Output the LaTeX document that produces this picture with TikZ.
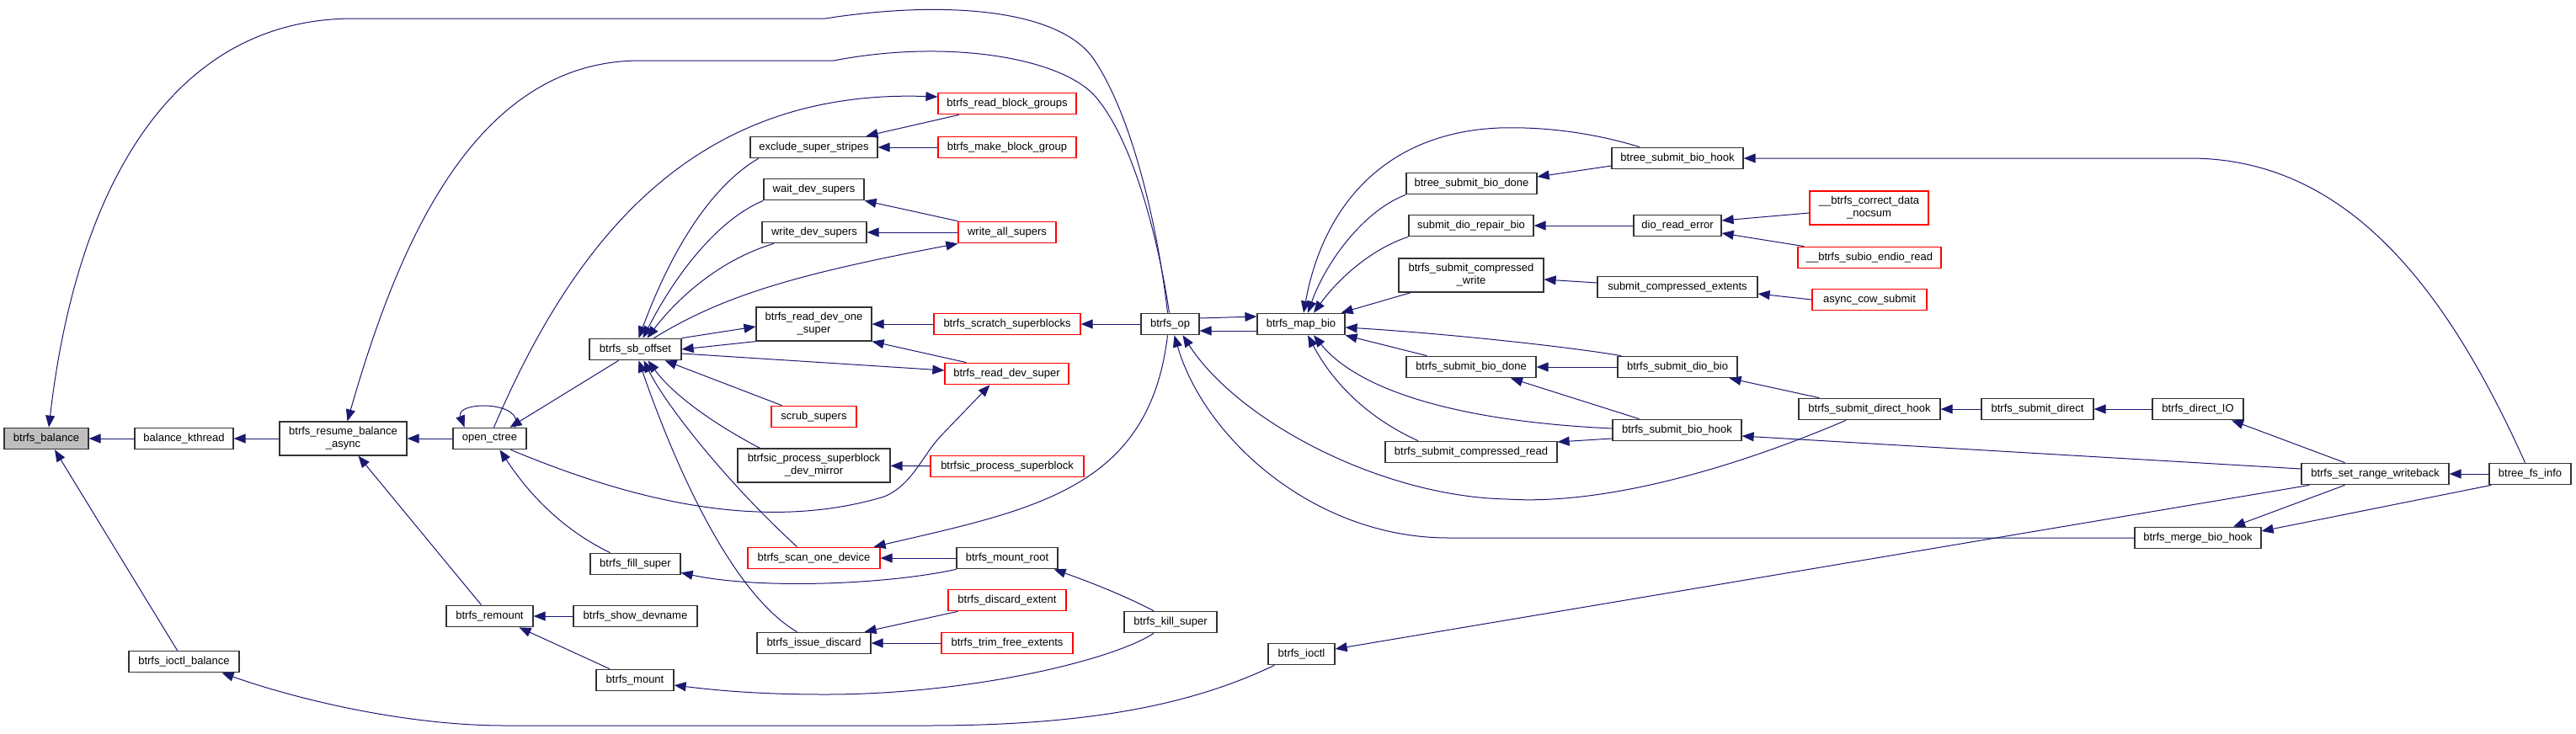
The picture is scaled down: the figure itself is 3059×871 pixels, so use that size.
\documentclass[tikz,border=0pt]{standalone}
\usepackage{fontspec}
\usepackage{xcolor}
\usepackage{tikz}
\usetikzlibrary{arrows.meta,calc}
\newfontfamily\dotfont{Liberation Sans}
\definecolor{callblue}{RGB}{25,25,112}
\colorlet{truncred}{red}
\tikzset{
  fn/.style={draw=black!80, line width=1.2pt, fill=white, inner sep=0pt,
    align=center, minimum height=25.5pt, font=\dotfont\fontsize{13}{15}\selectfont},
  fntwo/.style={fn, minimum height=40pt},
  trunc/.style={fn, draw=truncred},
  trunctwo/.style={fntwo, draw=truncred},
  root/.style={fn, fill=black!25},
  call/.style={-{Triangle[length=14pt,width=11pt]}, line width=1pt, draw=callblue},
}
\begin{document}
\begin{tikzpicture}[x=1pt,y=-1pt]
\useasboundingbox (0,0) rectangle (3059,871);
% left columns
\node[root, minimum width=100] (balance) at (55,521) {btrfs\_balance};
\node[fn, minimum width=117] (kthread) at (218.5,521) {balance\_kthread};
\node[fn, minimum width=131] (ioctlbal) at (218.5,786) {btrfs\_ioctl\_balance};
\node[fntwo, minimum width=151] (resume) at (407.5,521) {btrfs\_resume\_balance\\\_async};
\node[fn, minimum width=87] (openctree) at (581.5,521) {open\_ctree};
\node[fn, minimum width=103] (remount) at (581.5,732) {btrfs\_remount};
\node[fn, minimum width=109] (sboff) at (754.5,415) {btrfs\_sb\_offset};
\node[fn, minimum width=107] (fillsuper) at (754.5,670) {btrfs\_fill\_super};
\node[fn, minimum width=147] (showdev) at (754.5,732) {btrfs\_show\_devname};
\node[fn, minimum width=92] (mount) at (754,808) {btrfs\_mount};
% sb_offset callers
\node[fn, minimum width=151] (exclude) at (966.5,175) {exclude\_super\_stripes};
\node[fn, minimum width=119] (waitdev) at (966.5,225) {wait\_dev\_supers};
\node[fn, minimum width=124] (writedev) at (967,276) {write\_dev\_supers};
\node[fntwo, minimum width=137] (readone) at (966.5,385) {btrfs\_read\_dev\_one\\\_super};
\node[trunc, minimum width=101] (scrub) at (966.5,495) {scrub\_supers};
\node[fntwo, minimum width=181] (devmirror) at (966.5,553) {btrfsic\_process\_superblock\\\_dev\_mirror};
\node[trunc, minimum width=157] (scan) at (966.5,663) {btrfs\_scan\_one\_device};
\node[fn, minimum width=135] (issue) at (966.5,764) {btrfs\_issue\_discard};
\node[trunc, minimum width=164] (readbg) at (1196,123) {btrfs\_read\_block\_groups};
\node[trunc, minimum width=164] (makebg) at (1196,175) {btrfs\_make\_block\_group};
\node[trunc, minimum width=116] (writeall) at (1196,276) {write\_all\_supers};
\node[trunc, minimum width=174] (scratch) at (1196,385) {btrfs\_scratch\_superblocks};
\node[trunc, minimum width=147] (readsuper) at (1195.5,444) {btrfs\_read\_dev\_super};
\node[trunc, minimum width=182] (procsb) at (1196,554) {btrfsic\_process\_superblock};
\node[fn, minimum width=120] (mountroot) at (1196,663) {btrfs\_mount\_root};
\node[trunc, minimum width=140] (discard) at (1196,713) {btrfs\_discard\_extent};
\node[trunc, minimum width=156] (trim) at (1196,764) {btrfs\_trim\_free\_extents};
% middle
\node[fn, minimum width=69] (op) at (1389.5,385) {btrfs\_op};
\node[fn, minimum width=110] (killsuper) at (1390,739) {btrfs\_kill\_super};
\node[fn, minimum width=104] (mapbio) at (1545,385) {btrfs\_map\_bio};
\node[fn, minimum width=79] (ioctl) at (1545.5,777) {btrfs\_ioctl};
% map_bio callers
\node[fn, minimum width=155] (btreedone) at (1747.5,218) {btree\_submit\_bio\_done};
\node[fn, minimum width=148] (diorepair) at (1747,268) {submit\_dio\_repair\_bio};
\node[fntwo, minimum width=172] (compwrite) at (1747,327) {btrfs\_submit\_compressed\\\_write};
\node[fn, minimum width=154] (biodone) at (1747,436) {btrfs\_submit\_bio\_done};
\node[fn, minimum width=204] (compread) at (1747,537) {btrfs\_submit\_compressed\_read};
\node[fn, minimum width=156] (btreehook) at (1992,188) {btree\_submit\_bio\_hook};
\node[fn, minimum width=104] (dioerr) at (1992,268) {dio\_read\_error};
\node[fn, minimum width=190] (compext) at (1992,341) {submit\_compressed\_extents};
\node[fn, minimum width=142] (diobio) at (1992,436) {btrfs\_submit\_dio\_bio};
\node[fn, minimum width=153] (biohook) at (1991.5,511) {btrfs\_submit\_bio\_hook};
\node[trunctwo, minimum width=141] (correct) at (2219.5,247) {\_\_btrfs\_correct\_data\\\_nocsum};
\node[trunc, minimum width=170] (subio) at (2220,306) {\_\_btrfs\_subio\_endio\_read};
\node[trunc, minimum width=136] (asynccow) at (2220,356) {async\_cow\_submit};
\node[fn, minimum width=168] (directhook) at (2220,486) {btrfs\_submit\_direct\_hook};
\node[fn, minimum width=133] (submitdirect) at (2419.5,486) {btrfs\_submit\_direct};
\node[fn, minimum width=108] (directio) at (2610,486) {btrfs\_direct\_IO};
\node[fn, minimum width=150] (mergehook) at (2610,639) {btrfs\_merge\_bio\_hook};
\node[fn, minimum width=175] (setrange) at (2820.5,563) {btrfs\_set\_range\_writeback};
\node[fn, minimum width=97] (fsinfo) at (3004.5,563) {btree\_fs\_info};
% calls into the left columns
\draw[call] (kthread) -- (balance);
\draw[call] ($(ioctlbal.north)+(-8,0)$) -- ($(balance.south)+(10,0)$);
\draw[call] ($(op.north)+(-3,0)$) .. controls (1375,270) and (1345,140) .. (1300,72)
  .. controls (1260,10) and (1120,0) .. (980,22) -- (420,22)
  .. controls (200,22) and (90,230) .. ($(balance.north)+(3,0)$);
\draw[call] (resume) -- (kthread);
\draw[call] (openctree) -- (resume);
\draw[call] ($(remount.north)+(-10,0)$) -- ($(resume.south)+(18,0)$);
\draw[call] ($(op.north)+(-1,0)$) .. controls (1375,280) and (1345,170) .. (1305,120)
  .. controls (1270,70) and (1130,45) .. (990,72) -- (760,72)
  .. controls (560,72) and (470,300) .. ($(resume.north)+(5,0)$);
\draw[call] ($(openctree.north)+(30,0)$) .. controls (625,476) and (540,476) .. ($(openctree.north)+(-30,0)$);
\draw[call] ($(openctree.north)+(5,0)$) .. controls (680,290) and (820,105) .. ($(readbg.west)+(0,-8)$);
\draw[call] ($(sboff.south)+(-20,0)$) -- ($(openctree.north)+(24,0)$);
\draw[call] ($(openctree.south)+(25,0)$) .. controls (740,590) and (900,635) .. (1050,590)
  .. controls (1085,575) and (1095,540) .. (1120,515) -- ($(readsuper.south)+(-20,0)$);
\draw[call] ($(fillsuper.north)+(-30,0)$) .. controls (670,630) and (630,590) .. ($(openctree.south)+(12,0)$);
\draw[call] (showdev) -- (remount);
\draw[call] ($(mount.north)+(-30,0)$) -- ($(remount.south)+(35,0)$);
\draw[call] ($(ioctl.south west)+(8,0)$) .. controls (1420,835) and (1300,862) .. (1100,862) -- (600,862)
  .. controls (480,862) and (350,830) .. ($(ioctlbal.south)+(45,0)$);
% calls around sb_offset
\draw[call] ($(exclude.south)+(-66,0)$) .. controls (830,230) and (785,330) .. ($(sboff.north)+(4,0)$);
\draw[call] (waitdev.south west) .. controls (850,262) and (800,330) .. ($(sboff.north)+(9,0)$);
\draw[call] ($(writedev.south)+(-48,0)$) .. controls (850,310) and (800,360) .. ($(sboff.north)+(14,0)$);
\draw[call] ($(sboff.north)+(22,0)$) .. controls (860,350) and (950,325) .. (writeall.south west);
\draw[call] (writeall.north west) -- (waitdev.south east);
\draw[call] (writeall) -- (writedev);
\draw[call] ($(readbg.south)+(-57,0)$) -- ($(exclude.north)+(62,0)$);
\draw[call] (makebg) -- (exclude);
\draw[call] (sboff.north east) -- ($(readone.west)+(0,3)$);
\draw[call] (readone.south west) -- (sboff.east);
\draw[call] (scratch) -- (readone);
\draw[call] ($(readsuper.north)+(-48,0)$) -- (readone.south east);
\draw[call] ($(sboff.east)+(0,5)$) -- ($(readsuper.west)+(0,-4)$);
\draw[call] (op) -- (scratch);
\draw[call] ($(scrub.north)+(-38,0)$) -- ($(sboff.south)+(35,0)$);
\draw[call] ($(devmirror.north)+(-64,0)$) .. controls (850,505) and (800,470) .. ($(sboff.south)+(15,0)$);
\draw[call] (procsb) -- (devmirror);
\draw[call] ($(scan.north)+(-20,0)$) .. controls (860,570) and (790,480) .. ($(sboff.south)+(10,0)$);
\draw[call] ($(issue.north)+(-20,0)$) .. controls (860,700) and (790,520) .. ($(sboff.south)+(4,0)$);
\draw[call] (mountroot) -- (scan);
\draw[call] ($(op.south)+(-3,0)$) .. controls (1365,580) and (1230,605) .. ($(scan.north east)+(-8,0)$);
\draw[call] (mountroot.south west) .. controls (1050,695) and (900,700) .. ($(fillsuper.south east)+(0,-3)$);
\draw[call] ($(killsuper.north)+(-20,0)$) .. controls (1330,705) and (1290,690) .. ($(mountroot.south east)+(-5,0)$);
\draw[call] ($(killsuper.south)+(-20,0)$) .. controls (1320,785) and (1150,825) .. (980,825)
  .. controls (900,825) and (850,820) .. ($(mount.east)+(0,6)$);
\draw[call] ($(discard.south west)+(12,0)$) -- ($(issue.north east)+(-8,0)$);
\draw[call] (trim) -- (issue);
% calls around map_bio
\draw[call] ($(op.east)+(0,-7)$) -- ($(mapbio.west)+(0,-9)$);
\draw[call] ($(mapbio.west)+(0,8)$) -- ($(op.east)+(0,8)$);
\draw[call] ($(btreehook.north)+(-45,0)$) .. controls (1900,160) and (1840,150) .. (1780,152)
  .. controls (1640,158) and (1570,250) .. ($(mapbio.north)+(3,0)$);
\draw[call] (btreedone.south west) .. controls (1620,250) and (1575,310) .. ($(mapbio.north)+(8,0)$);
\draw[call] (diorepair.south west) .. controls (1630,295) and (1590,330) .. ($(mapbio.north)+(15,0)$);
\draw[call] ($(compwrite.south west)+(15,0)$) -- ($(mapbio.north east)+(-5,0)$);
\draw[call] ($(btreehook.west)+(0,9)$) -- ($(btreedone.east)+(0,-8)$);
\draw[call] (dioerr) -- (diorepair);
\draw[call] ($(correct.west)+(0,6)$) -- ($(dioerr.east)+(0,-6)$);
\draw[call] ($(subio.north west)+(8,0)$) -- ($(dioerr.east)+(0,9)$);
\draw[call] ($(compext.west)+(0,-5)$) -- ($(compwrite.east)+(0,5)$);
\draw[call] (asynccow.west) -- ($(compext.east)+(0,8)$);
\draw[call] ($(diobio.north west)+(5,0)$) .. controls (1850,410) and (1700,395) .. ($(mapbio.east)+(0,4)$);
\draw[call] ($(biodone.north west)+(25,0)$) -- (mapbio.south east);
\draw[call] ($(biohook.west)+(0,-2)$) .. controls (1720,500) and (1610,460) .. ($(mapbio.south)+(15,0)$);
\draw[call] ($(compread.north)+(-63,0)$) .. controls (1610,490) and (1575,440) .. ($(mapbio.south)+(8,0)$);
\draw[call] (diobio) -- (biodone);
\draw[call] ($(biohook.north)+(-45,0)$) -- ($(biodone.south)+(47,0)$);
\draw[call] ($(biohook.west)+(0,10)$) -- ($(compread.east)+(0,-12)$);
\draw[call] ($(directhook.north west)+(25,0)$) -- ($(diobio.south east)+(-10,0)$);
\draw[call] ($(directhook.south)+(-28,0)$) .. controls (2050,560) and (1900,600) .. (1790,593)
  .. controls (1640,590) and (1470,500) .. ($(op.south)+(15,0)$);
\draw[call] (mergehook.west) -- (1720,639) .. controls (1560,639) and (1430,520) .. ($(op.south)+(5,0)$);
% calls on the right
\draw[call] ($(setrange.west)+(0,-6)$) -- ($(biohook.east)+(0,7)$);
\draw[call] ($(setrange.south west)+(10,0)$) -- ($(ioctl.east)+(0,-6)$);
\draw[call] ($(fsinfo.north)+(-6,0)$) .. controls (2900,330) and (2780,188) .. (2600,188) -- (btreehook.east);
\draw[call] (submitdirect) -- (directhook);
\draw[call] (directio) -- (submitdirect);
\draw[call] ($(setrange.north)+(-36,0)$) -- ($(directio.south)+(40,0)$);
\draw[call] (fsinfo) -- (setrange);
\draw[call] ($(setrange.south)+(-36,0)$) -- ($(mergehook.north)+(42,0)$);
\draw[call] ($(fsinfo.south west)+(3,0)$) -- ($(mergehook.east)+(0,-8)$);
\end{tikzpicture}
\end{document}
